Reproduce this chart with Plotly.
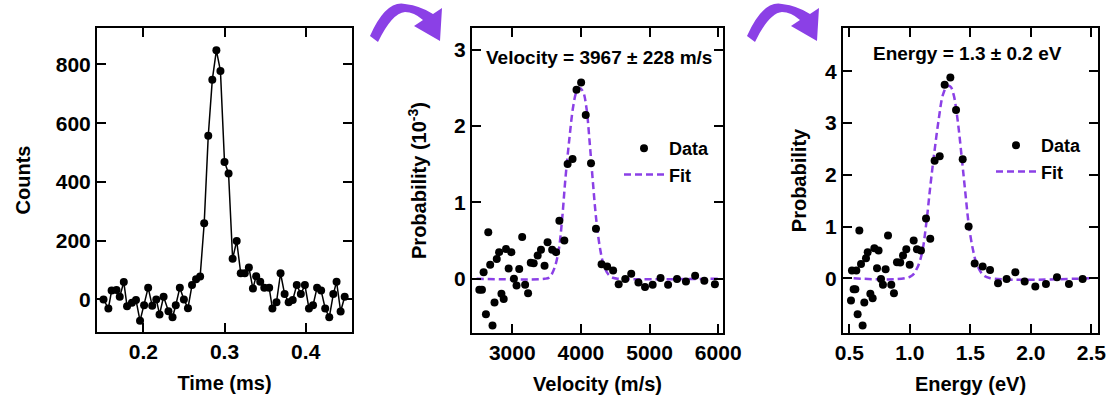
import plotly.graph_objects as go

# ---------------- data ----------------
time_ms = [0.151, 0.157, 0.161, 0.167, 0.171, 0.176, 0.180, 0.186, 0.191, 0.196,
           0.201, 0.206, 0.211, 0.216, 0.220, 0.225, 0.231, 0.236, 0.240, 0.245,
           0.250, 0.255, 0.260, 0.265, 0.270, 0.275, 0.280, 0.285, 0.290, 0.295,
           0.300, 0.305, 0.310, 0.315, 0.320, 0.325, 0.330, 0.335, 0.339, 0.344,
           0.349, 0.355, 0.359, 0.364, 0.369, 0.374, 0.379, 0.384, 0.389, 0.394,
           0.399, 0.404, 0.409, 0.414, 0.419, 0.424, 0.429, 0.434, 0.438, 0.443,
           0.448]
counts = [0, -31, 30, 32, 9, 59, -23, -11, -2, -73,
          -20, 40, -22, 0, -51, 9, -40, -61, -20, 40,
          0, -30, 49, 69, 78, 259, 557, 748, 848, 778,
          468, 429, 138, 199, 89, 89, 109, 37, 79, 60,
          40, 40, -31, -10, 89, 18, -10, -2, 49, 18,
          49, -31, -20, 40, 30, -31, -61, 18, 60, -41,
          9]

velocity = [2520, 2558, 2582, 2616, 2650, 2678, 2712, 2741, 2774, 2808,
            2842, 2875, 2909, 2947, 2986, 3024, 3062, 3101, 3144, 3187,
            3230, 3269, 3312, 3370, 3418, 3470, 3514, 3581, 3638, 3686,
            3758, 3806, 3878, 3936, 4003, 4070, 4147, 4219, 4301, 4382,
            4469, 4550, 4646, 4733, 4838, 4934, 5045, 5160, 5270, 5400,
            5530, 5664, 5798, 5952]
vel_prob = [-0.144, -0.144, 0.087, -0.463, 0.611, 0.183, -0.611, -0.310, 0.258, 0.349,
            -0.197, -0.266, 0.389, 0.135, 0.349, 0.000, -0.087, 0.127, 0.546, -0.079,
            -0.188, 0.210, 0.205, 0.306, 0.380, 0.170, 0.480, 0.380, 0.349, 0.760,
            0.502, 1.502, 1.568, 2.476, 2.572, 2.144, 1.515, 0.655, 0.192, 0.162,
            0.109, -0.070, -0.004, 0.066, -0.048, -0.109, -0.079, 0.009, -0.079, -0.004,
            -0.035, 0.039, -0.026, -0.070]
vel_fit_x = [2480, 3470, 3542, 3614, 3677, 3725, 3773, 3830, 3888, 3936,
             3984, 4032, 4080, 4128, 4176, 4224, 4282, 4339, 4406, 4478,
             4550, 6000]
vel_fit_y = [0.0, 0.0, 0.02, 0.14, 0.38, 0.77, 1.30, 1.82, 2.26, 2.45,
             2.50, 2.45, 2.24, 1.78, 1.25, 0.77, 0.38, 0.16, 0.05, 0.01,
             0.0, 0.0]

energy = [0.514, 0.522, 0.536, 0.550, 0.558, 0.569, 0.583, 0.597, 0.610, 0.624,
          0.638, 0.652, 0.674, 0.693, 0.707, 0.729, 0.742, 0.762, 0.778, 0.800,
          0.820, 0.847, 0.869, 0.894, 0.921, 0.944, 0.971, 0.999, 1.032, 1.059,
          1.092, 1.134, 1.169, 1.205, 1.247, 1.288, 1.335, 1.382, 1.437, 1.486,
          1.536, 1.602, 1.663, 1.729, 1.800, 1.872, 1.949, 2.037, 2.125, 2.216,
          2.315, 2.428]
en_prob = [-0.430, 0.148, -0.213, -0.213, 0.148, -0.697, 0.923, 0.277, -0.916, -0.471,
           0.387, 0.503, -0.303, -0.387, 0.581, 0.194, 0.535, -0.013, -0.129, 0.174,
           0.826, -0.129, -0.290, 0.310, 0.303, 0.439, 0.561, 0.258, 0.729, 0.561,
           0.535, 1.155, 0.761, 2.271, 2.361, 3.742, 3.884, 3.252, 2.303, 1.000,
           0.284, 0.226, 0.161, -0.097, -0.013, 0.116, -0.065, -0.161, -0.110, 0.019,
           -0.110, -0.013]
en_fit_x = [0.536, 1.004, 1.059, 1.100, 1.136, 1.169, 1.202, 1.238, 1.274, 1.307,
            1.335, 1.362, 1.395, 1.431, 1.459, 1.486, 1.522, 1.555, 1.605, 1.665,
            2.500]
en_fit_y = [0.0, 0.03, 0.19, 0.48, 1.06, 1.77, 2.42, 3.06, 3.55, 3.71,
            3.71, 3.55, 3.06, 2.29, 1.65, 1.06, 0.55, 0.26, 0.065, 0.0,
            0.0]

# ---------------- style ----------------
FONT = "Liberation Sans, Arial, Helvetica, sans-serif"
PURPLE = "#8B40E6"
W, H = 1111, 410


def bold(size):
    return dict(family=FONT, size=size, color="black", weight="bold")


def axis(domain, rng, tickvals, title, standoff, anchor, tickformat=None):
    d = dict(domain=domain, range=rng, tickvals=tickvals, anchor=anchor,
             showline=True, linecolor="black", linewidth=2, mirror="ticks",
             ticks="inside", ticklen=9, tickwidth=2, tickcolor="black",
             showgrid=False, zeroline=False, automargin=False,
             tickfont=bold(21),
             title=dict(text=title, font=bold(20), standoff=standoff))
    if tickformat:
        d["tickformat"] = tickformat
    return d


fig = go.Figure()

fig.add_trace(go.Scatter(x=time_ms, y=counts, mode="lines+markers",
                         line=dict(color="black", width=1.5),
                         marker=dict(color="black", size=8),
                         showlegend=False, xaxis="x", yaxis="y"))

fig.add_trace(go.Scatter(x=vel_fit_x, y=vel_fit_y, mode="lines", name="Fit",
                         line=dict(color=PURPLE, width=2.5, dash="7px,4px", shape="spline"),
                         xaxis="x2", yaxis="y2", legend="legend", legendrank=2))
fig.add_trace(go.Scatter(x=velocity, y=vel_prob, mode="markers", name="Data",
                         marker=dict(color="black", size=8),
                         xaxis="x2", yaxis="y2", legend="legend", legendrank=1))

fig.add_trace(go.Scatter(x=en_fit_x, y=en_fit_y, mode="lines", name="Fit",
                         line=dict(color=PURPLE, width=2.5, dash="7px,4px", shape="spline"),
                         xaxis="x3", yaxis="y3", legend="legend2", legendrank=2))
fig.add_trace(go.Scatter(x=energy, y=en_prob, mode="markers", name="Data",
                         marker=dict(color="black", size=8),
                         xaxis="x3", yaxis="y3", legend="legend2", legendrank=1))


def px_x(x):
    return x / W


def px_y(y):
    return 1 - y / H


ydom = [px_y(332), px_y(28)]
ydom2 = [px_y(333), px_y(28)]


def arrow_path(dx):
    pts = [("M", [(370, 36)]), ("Q", [(386, 0), (405, 4)]), ("Q", [(421, 6), (433, 14)]),
           ("L", [(442, 8)]), ("L", [(440, 41)]), ("L", [(414, 26)]), ("L", [(423, 20)]),
           ("Q", [(414, 12), (405, 12)]), ("Q", [(392, 13), (378, 42)])]
    s = ""
    for cmd, cs in pts:
        s += cmd + " " + " ".join(f"{px_x(x + dx):.5f},{px_y(y):.5f}" for x, y in cs) + " "
    return s + "Z"


fig.update_layout(
    width=W, height=H,
    margin=dict(l=0, r=0, t=0, b=0),
    template="none",
    paper_bgcolor="white", plot_bgcolor="white",
    font=dict(family=FONT, color="black"),
    xaxis=axis([px_x(97), px_x(352)], [0.143, 0.457], [0.2, 0.3, 0.4], "Time (ms)", 14, "y"),
    yaxis=axis(ydom, [-111, 924], [0, 200, 400, 600, 800], "Counts", 20, "x"),
    xaxis2=axis([px_x(472), px_x(723)], [2413, 6070], [3000, 4000, 5000, 6000],
                "Velocity (m/s)", 14, "y2"),
    yaxis2=axis(ydom2, [-0.71, 3.285], [0, 1, 2, 3], "Probability (10<sup>-3</sup>)", 22, "x2"),
    xaxis3=axis([px_x(843), px_x(1098)], [0.448, 2.555], [0.5, 1.0, 1.5, 2.0, 2.5],
                "Energy (eV)", 14, "y3", tickformat=".1f"),
    yaxis3=axis(ydom2, [-1.06, 4.84], [0, 1, 2, 3, 4], "Probability", 13, "x3"),
    legend=dict(x=px_x(619), y=px_y(130), xanchor="left", yanchor="top",
                bgcolor="rgba(0,0,0,0)", font=bold(18), tracegroupgap=0, itemwidth=40),
    legend2=dict(x=px_x(991), y=px_y(127), xanchor="left", yanchor="top",
                 bgcolor="rgba(0,0,0,0)", font=bold(18), tracegroupgap=0, itemwidth=40),
    annotations=[
        dict(text="Velocity = 3967 ± 228 m/s", xref="paper", yref="paper",
             x=px_x(599), y=px_y(57), showarrow=False, font=bold(19),
             xanchor="center", yanchor="middle"),
        dict(text="Energy = 1.3 ± 0.2 eV", xref="paper", yref="paper",
             x=px_x(967), y=px_y(53), showarrow=False, font=bold(19),
             xanchor="center", yanchor="middle"),
    ],
    shapes=[
        dict(type="path", xref="paper", yref="paper", path=arrow_path(0),
             fillcolor=PURPLE, line=dict(width=0)),
        dict(type="path", xref="paper", yref="paper", path=arrow_path(377),
             fillcolor=PURPLE, line=dict(width=0)),
    ],
)

fig.write_html("out.html")
